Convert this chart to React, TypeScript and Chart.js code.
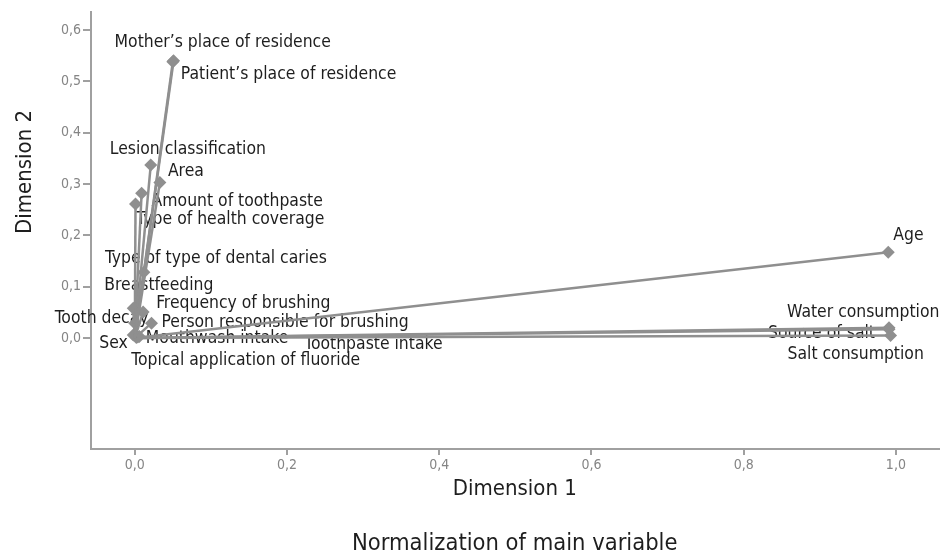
import React, { useEffect, useRef } from "react";
import { Chart, registerables } from "chart.js";

Chart.register(...registerables);

// Discrimination measures (Dimension 1, Dimension 2)
const variables = [
  "Mother\u2019s place of residence",
  "Patient\u2019s place of residence",
  "Lesion classification",
  "Area",
  "Amount of toothpaste",
  "Type of health coverage",
  "Type of type of dental caries",
  "Breastfeeding",
  "Frequency of brushing",
  "Tooth decay",
  "Person responsible for brushing",
  "Sex",
  "Mouthwash intake",
  "Topical application of fluoride",
  "Toothpaste intake",
  "Age",
  "Water consumption",
  "Source of salt",
  "Salt consumption",
];
const dimension1 = [
  0.051, 0.05, 0.021, 0.033, 0.009, 0.001, 0.012, -0.002, 0.011, 0.0, 0.022,
  -0.002, 0.004, 0.002, 0.006, 0.99, 0.991, 0.991, 0.993,
];
const dimension2 = [
  0.54, 0.538, 0.337, 0.303, 0.282, 0.261, 0.128, 0.058, 0.051, 0.029, 0.029,
  0.006, 0.002, 0.001, 0.003, 0.167, 0.02, 0.017, 0.005,
];
const xTicks = [0, 0.2, 0.4, 0.6, 0.8, 1.0];
const yTicks = [0, 0.1, 0.2, 0.3, 0.4, 0.5, 0.6];

// label placement (pixel offset of text left edge / vertical middle from the point)
const labelOffsets: [number, number][] = [
  [-59, -18], [8, 13], [-41, -16], [8, -11], [10, 8], [1, 15], [-39, -14],
  [-29, -23], [13, -8], [-80, -5], [10, -1], [-34, 8], [8, 1], [-5, 23],
  [165, 8], [5, -17], [-102, -15], [-121, 4], [-103, 19],
];

const FONT = "'DejaVu Sans Condensed', 'DejaVu Sans', sans-serif";
const GREY = "#8f8f8f";
const AXIS = "#a0a0a0";
const fmt = (v: number) => v.toFixed(1).replace(".", ",");

export default function App() {
  const ref = useRef<HTMLCanvasElement | null>(null);
  useEffect(() => {
    document.body.style.margin = "0";
    const canvas = ref.current;
    if (!canvas) return;

    const labelPlugin = {
      id: "pointLabels",
      beforeDatasetsDraw(chart: any) {
        const ctx = chart.ctx;
        ctx.save();
        ctx.font = `17.4px ${FONT}`;
        ctx.fillStyle = "#1e1e1e";
        ctx.textAlign = "left";
        ctx.textBaseline = "middle";
        variables.forEach((name, i) => {
          const meta = chart.getDatasetMeta(i);
          const pt = meta.data[1];
          if (!pt) return;
          const [dx, dy] = labelOffsets[i];
          ctx.fillText(name, pt.x + dx, pt.y + dy);
        });
        ctx.restore();
      },
      afterDraw(chart: any) {
        const ctx = chart.ctx;
        const area = chart.chartArea;
        ctx.save();
        ctx.fillStyle = "#1e1e1e";
        ctx.textAlign = "center";
        ctx.textBaseline = "alphabetic";
        ctx.font = `22px ${FONT}`;
        ctx.fillText("Dimension 1", (area.left + area.right) / 2, 495);
        ctx.font = `23.5px ${FONT}`;
        ctx.fillText("Normalization of main variable", (area.left + area.right) / 2, 550);
        ctx.translate(31, 172);
        ctx.rotate(-Math.PI / 2);
        ctx.font = `22px ${FONT}`;
        ctx.fillText("Dimension 2", 0, 0);
        ctx.restore();
      },
    };

    const datasets = variables.map((name, i) => ({
      label: name,
      data: [
        { x: 0, y: 0 },
        { x: dimension1[i], y: dimension2[i] },
      ],
      showLine: true,
      borderColor: GREY,
      borderWidth: 2.5,
      backgroundColor: GREY,
      pointBackgroundColor: GREY,
      pointBorderWidth: 0,
      pointStyle: "rectRot",
      pointRadius: [0, 6.5],
    }));

    const chart = new Chart(canvas, {
      type: "scatter",
      data: { datasets },
      plugins: [labelPlugin],
      options: {
        responsive: false,
        animation: false,
        layout: { padding: { left: 0, right: 2, top: 12, bottom: 0 } },
        plugins: {
          legend: { display: false },
          tooltip: { enabled: false },
          title: { display: false },
        },
        scales: {
          x: {
            type: "linear",
            min: -0.0575,
            max: 1.056,
            afterBuildTicks: (s: any) => {
              s.ticks = xTicks.map((v) => ({ value: v }));
            },
            afterFit: (s: any) => {
              s.height = 109;
            },
            ticks: {
              color: "#858585",
              font: { family: FONT, size: 14 },
              padding: 2,
              callback: (v: any) => fmt(Number(v)),
            },
            grid: {
              display: true,
              drawOnChartArea: false,
              drawTicks: true,
              tickLength: 6,
              color: AXIS,
              lineWidth: 2,
            },
            border: { display: true, color: AXIS, width: 2 },
          },
          y: {
            type: "linear",
            min: -0.216,
            max: 0.635,
            afterBuildTicks: (s: any) => {
              s.ticks = yTicks.map((v) => ({ value: v }));
            },
            afterFit: (s: any) => {
              s.width = 91;
            },
            ticks: {
              color: "#858585",
              font: { family: FONT, size: 14 },
              padding: 2,
              callback: (v: any) => fmt(Number(v)),
            },
            grid: {
              display: true,
              drawOnChartArea: false,
              drawTicks: true,
              tickLength: 8,
              color: AXIS,
              lineWidth: 2,
            },
            border: { display: true, color: AXIS, width: 2 },
          },
        },
      } as any,
    });
    return () => chart.destroy();
  }, []);

  return <canvas ref={ref} width={945} height={558} style={{ display: "block" }} />;
}
